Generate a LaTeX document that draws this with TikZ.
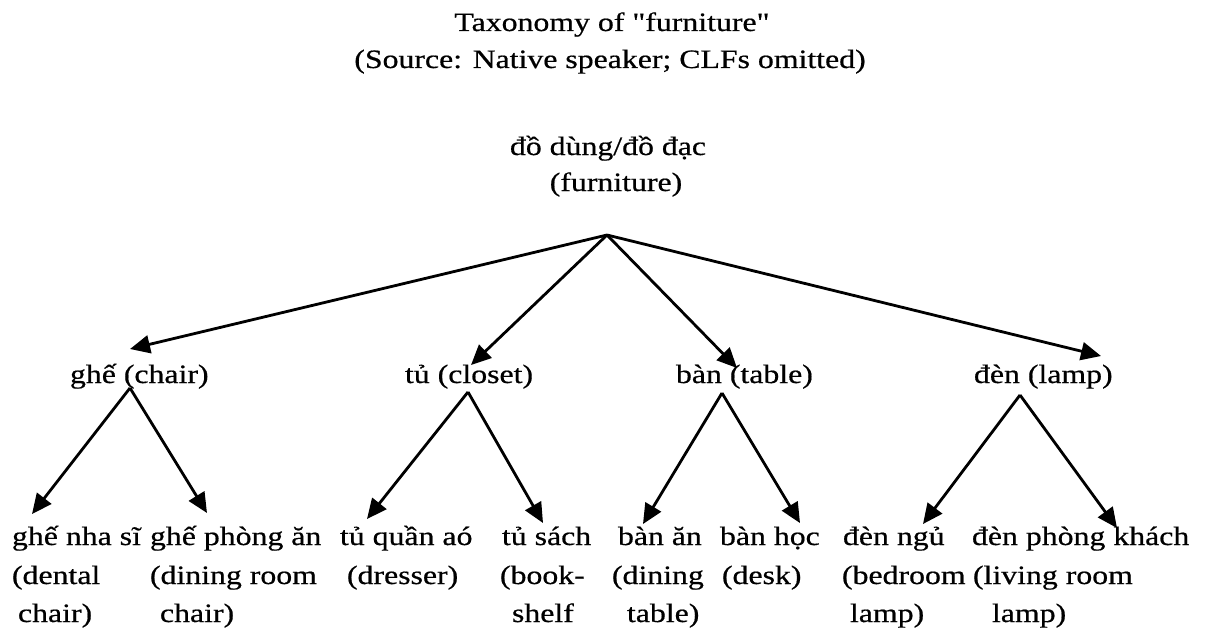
\documentclass[tikz,border=0pt]{standalone}
\usepackage{fontspec}
\setmainfont[Ligatures=TeXOff,FakeStretch=1.2,FakeBold=0.6]{Liberation Serif}
\usetikzlibrary{arrows.meta,calc}
\tikzset{
  txt/.style={anchor=base west,inner sep=0pt,outer sep=0pt,font=\fontsize{26.5}{38}\selectfont},
  ctxt/.style={anchor=base,inner sep=0pt,outer sep=0pt,font=\fontsize{26.5}{38}\selectfont},
  arr/.style={line width=2.8pt,-{Triangle[length=20pt,width=18pt]}}
}
\begin{document}
\begin{tikzpicture}[x=1pt,y=-1pt]
\useasboundingbox (0,0) rectangle (1211,634);
% title
\node[ctxt] (t1) at (612,31) {Taxonomy of "furniture"};
\node[ctxt] (t2) at (610,68) {(Source: Native speaker; CLFs omitted)};
% root
\node[ctxt] (r1) at (608,155) {đồ dùng/đồ đạc};
\node[ctxt] (r2) at (616,191) {(furniture)};
% level 2
\node[txt] (chair) at (70,383) {ghế (chair)};
\node[txt] (closet) at (405,383) {tủ (closet)};
\node[txt] (table) at (676,383) {bàn (table)};
\node[txt] (lamp) at (974,383) {đèn (lamp)};
% leaves
\node[txt] (a1) at (12,545) {ghế nha sĩ};
\node[txt] (a2) at (12,584) {(dental};
\node[txt] (a3) at (18,622) {chair)};
\node[txt] (b1) at (150,545) {ghế phòng ăn};
\node[txt] (b2) at (150,584) {(dining room};
\node[txt] (b3) at (160,622) {chair)};
\node[txt] (c1) at (340,545) {tủ quần aó};
\node[txt] (c2) at (347,584) {(dresser)};
\node[txt] (d1) at (502,545) {tủ sách};
\node[txt] (d2) at (500,584) {(book-};
\node[txt] (d3) at (512,622) {shelf};
\node[txt] (e1) at (618,545) {bàn ăn};
\node[txt] (e2) at (612,584) {(dining};
\node[txt] (e3) at (627,622) {table)};
\node[txt] (f1) at (720,545) {bàn học};
\node[txt] (f2) at (722,584) {(desk)};
\node[txt] (g1) at (843,545) {đèn ngủ};
\node[txt] (g2) at (842,584) {(bedroom};
\node[txt] (g3) at (850,622) {lamp)};
\node[txt] (h1) at (972,545) {đèn phòng khách};
\node[txt] (h2) at (973,584) {(living room};
\node[txt] (h3) at (992,622) {lamp)};
% connectors from root
\coordinate (rootapex) at ($(r2.base)+(-9,44)$);
\draw[arr] (rootapex) -- ($(chair.base west)+(60,-34)$);
\draw[arr] (rootapex) -- ($(closet.base west)+(66,-18)$);
\draw[arr] (rootapex) -- ($(table.base west)+(61,-15)$);
\draw[arr] (rootapex) -- ($(lamp.base west)+(127,-27)$);
% level 2 to leaves
\coordinate (chairapex) at ($(chair.base west)+(60,5)$);
\coordinate (closetapex) at ($(closet.base west)+(63,9)$);
\coordinate (tableapex) at ($(table.base west)+(46,10)$);
\coordinate (lampapex) at ($(lamp.base west)+(46,12)$);
\draw[arr] (chairapex) -- ($(a1.base west)+(20,-31)$);
\draw[arr] (chairapex) -- ($(b1.base west)+(57,-32)$);
\draw[arr] (closetapex) -- ($(c1.base west)+(27,-26)$);
\draw[arr] (closetapex) -- ($(d1.base west)+(41,-22)$);
\draw[arr] (tableapex) -- ($(e1.base west)+(25,-21)$);
\draw[arr] (tableapex) -- ($(f1.base west)+(80,-22)$);
\draw[arr] (lampapex) -- ($(g1.base west)+(80,-21)$);
\draw[arr] (lampapex) -- ($(h1.base west)+(145,-17)$);
\end{tikzpicture}
\end{document}
